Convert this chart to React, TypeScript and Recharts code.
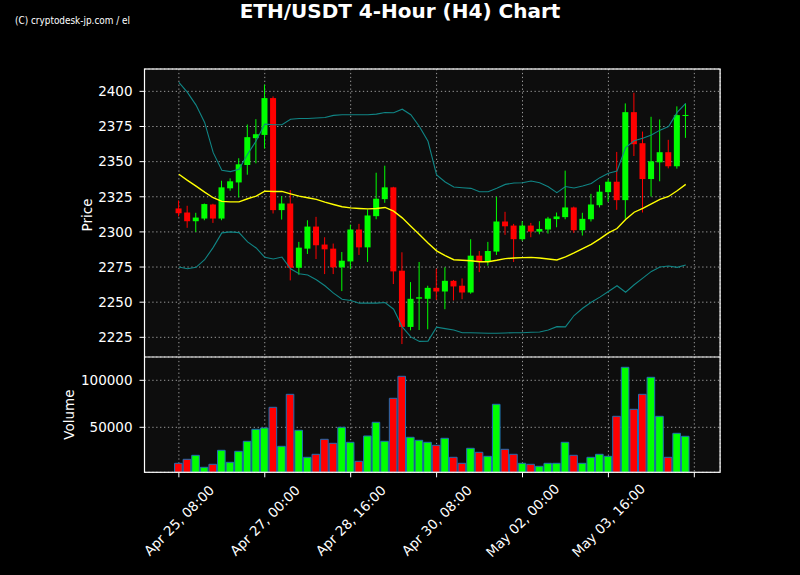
import React from "react";
import { ComposedChart, Bar, Line, XAxis, YAxis, CartesianGrid, Cell } from "recharts";

// 4-hour candles, first one at Apr 25 08:00
const opens = [
  2316.7, 2313.8, 2307.6, 2309.5, 2319.5, 2309.5, 2331.0, 2335.2, 2347.6, 2366.7,
  2369.0, 2395.2, 2315.5, 2320.2, 2274.5, 2288.1, 2303.8, 2291.0, 2288.1, 2274.8,
  2279.0, 2301.7, 2289.0, 2311.2, 2323.3, 2331.7, 2272.4, 2232.4, 2252.5, 2252.4,
  2260.2, 2257.6, 2265.2, 2261.7, 2256.9, 2283.1, 2278.8, 2286.0, 2307.4, 2304.5,
  2294.8, 2304.5, 2300.2, 2301.7, 2309.1, 2310.5, 2317.4, 2301.2, 2309.0, 2319.0,
  2328.3, 2335.7, 2322.6, 2385.2, 2363.1, 2337.6, 2349.5, 2356.7, 2346.7, 2382.8,
];
const highs = [
  2322.4, 2318.6, 2313.6, 2320.2, 2320.0, 2336.4, 2338.1, 2352.4, 2376.4, 2380.2,
  2404.8, 2396.4, 2325.5, 2329.8, 2292.9, 2308.3, 2310.7, 2296.2, 2291.7, 2285.7,
  2305.2, 2305.7, 2316.0, 2342.1, 2347.1, 2332.1, 2285.5, 2264.3, 2278.6, 2261.7,
  2273.8, 2274.8, 2265.8, 2266.9, 2294.8, 2286.4, 2292.9, 2325.0, 2314.3, 2305.7,
  2307.6, 2306.4, 2307.6, 2310.7, 2313.8, 2343.6, 2318.0, 2313.6, 2327.1, 2333.3,
  2337.4, 2356.9, 2391.4, 2399.0, 2371.4, 2381.9, 2380.0, 2365.5, 2389.3, 2391.2,
];
const lows = [
  2311.0, 2302.9, 2300.0, 2308.3, 2306.4, 2308.3, 2329.3, 2324.5, 2340.7, 2348.8,
  2359.3, 2313.1, 2308.8, 2265.5, 2269.5, 2284.3, 2280.7, 2270.0, 2270.0, 2257.9,
  2273.8, 2283.6, 2278.6, 2309.0, 2320.7, 2262.9, 2220.2, 2230.0, 2230.2, 2230.7,
  2251.7, 2245.0, 2251.2, 2252.1, 2256.0, 2271.4, 2276.0, 2283.6, 2297.9, 2278.6,
  2293.6, 2296.2, 2298.3, 2298.8, 2303.3, 2309.0, 2299.3, 2297.4, 2307.4, 2317.4,
  2321.4, 2315.7, 2309.3, 2354.0, 2313.8, 2325.2, 2336.0, 2345.2, 2345.0, 2366.9,
];
const closes = [
  2313.3, 2307.6, 2310.2, 2319.8, 2309.5, 2331.7, 2336.0, 2348.1, 2367.4, 2369.5,
  2395.2, 2315.5, 2320.2, 2274.5, 2288.8, 2303.8, 2290.5, 2287.6, 2274.8, 2279.5,
  2301.7, 2289.0, 2311.7, 2323.6, 2331.7, 2271.9, 2232.4, 2252.4, 2253.5, 2260.2,
  2257.6, 2265.2, 2261.2, 2256.9, 2283.1, 2278.8, 2286.4, 2307.4, 2304.0, 2294.8,
  2304.5, 2300.2, 2302.1, 2309.5, 2311.0, 2317.4, 2301.2, 2309.3, 2319.5, 2328.6,
  2335.7, 2322.6, 2385.2, 2362.4, 2337.6, 2350.2, 2356.7, 2346.7, 2383.1, 2383.2,
];
const volumes = [
  11700, 15960, 20200, 7450, 10640, 25530, 12770, 24470, 35110, 47870,
  49290, 71280, 29790, 85100, 46810, 18090, 21280, 37240, 32980, 50000,
  34040, 13830, 40780, 55320, 35110, 80850, 104260, 39360, 36170, 34040,
  30850, 38300, 18090, 11700, 27660, 23400, 19150, 74470, 26600, 21280,
  11700, 10640, 8510, 11700, 11700, 34040, 20215, 11700, 18090, 21280,
  19150, 61700, 113830, 69150, 85100, 103190, 61700, 18090, 43620, 40430,
];
// Bollinger bands as drawn
const upperBand = [
  2406.4, 2399.3, 2390.2, 2377.9, 2356.4, 2343.8, 2342.9, 2344.5, 2355.2, 2364.8,
  2376.7, 2376.2, 2376.2, 2380.2, 2380.7, 2380.7, 2381.0, 2381.4, 2382.9, 2383.3,
  2383.3, 2383.3, 2383.3, 2383.8, 2385.0, 2384.8, 2387.3, 2383.4, 2375.0, 2364.5,
  2340.5, 2335.5, 2331.9, 2331.4, 2331.0, 2328.6, 2328.6, 2331.0, 2333.8, 2334.8,
  2335.0, 2336.2, 2335.0, 2332.1, 2327.9, 2332.3, 2331.2, 2332.6, 2334.5, 2338.6,
  2341.7, 2343.3, 2360.0, 2364.8, 2366.7, 2369.0, 2372.4, 2375.0, 2385.0, 2391.4,
];
const middleBand = [
  2341.0, 2336.7, 2332.6, 2328.3, 2324.3, 2321.7, 2321.4, 2321.4, 2323.6, 2325.5,
  2329.0, 2328.8, 2328.8, 2327.1, 2325.5, 2324.3, 2323.1, 2321.2, 2319.5, 2317.9,
  2317.1, 2316.7, 2316.4, 2316.7, 2317.4, 2314.8, 2310.0, 2304.0, 2298.1, 2292.1,
  2286.5, 2283.1, 2280.2, 2279.8, 2279.5, 2278.8, 2278.8, 2279.8, 2281.0, 2281.4,
  2281.7, 2281.9, 2281.4, 2280.7, 2280.0, 2282.2, 2285.0, 2288.1, 2291.2, 2295.0,
  2299.3, 2302.4, 2308.8, 2314.0, 2316.7, 2320.0, 2323.1, 2325.2, 2329.3, 2333.8,
];
const lowerBand = [
  2275.0, 2273.8, 2274.8, 2280.2, 2289.0, 2299.3, 2300.0, 2299.5, 2292.9, 2288.6,
  2281.9, 2280.7, 2282.1, 2273.8, 2270.2, 2269.3, 2266.0, 2261.7, 2256.4, 2252.1,
  2251.2, 2249.3, 2249.3, 2249.3, 2249.8, 2245.0, 2232.4, 2225.3, 2222.1, 2222.3,
  2232.2, 2231.2, 2230.2, 2228.3, 2228.3, 2228.1, 2227.9, 2227.9, 2228.1, 2228.3,
  2228.3, 2228.6, 2228.8, 2230.2, 2232.6, 2232.4, 2240.5, 2245.7, 2250.0, 2253.6,
  2257.6, 2261.7, 2257.1, 2262.4, 2267.1, 2271.9, 2275.0, 2275.7, 2274.8, 2276.4,
];

const xTickValues = [0, 10, 20, 30, 40, 50, 60];
const xTickLabels = [
  "Apr 25, 08:00",
  "Apr 27, 00:00",
  "Apr 28, 16:00",
  "Apr 30, 08:00",
  "May 02, 00:00",
  "May 03, 16:00",
  "",
];
const priceTicks = [2225, 2250, 2275, 2300, 2325, 2350, 2375, 2400];
const volumeTicks = [50000, 100000];

const UP = "#00ff00";
const DOWN = "#ff0000";
const BAND = "#108585";
const FONT = "DejaVu Sans";
const TICK_SIZE = 13.5;

const data = opens.map((o, i) => ({
  idx: i,
  open: o,
  high: highs[i],
  low: lows[i],
  close: closes[i],
  range: [lows[i], highs[i]],
  upper: upperBand[i],
  mid: middleBand[i],
  lower: lowerBand[i],
  volume: volumes[i],
}));

const Candle = (props: any) => {
  const { x, y, width, height, payload } = props;
  if (!payload || height == null) return null;
  const { open, close, high, low } = payload;
  const color = close >= open ? UP : DOWN;
  const k = height / (high - low);
  const yOf = (v: number) => y + (high - v) * k;
  const top = yOf(Math.max(open, close));
  const bottom = yOf(Math.min(open, close));
  const cx = x + width / 2;
  return (
    <g>
      <line x1={cx} x2={cx} y1={y} y2={y + height} stroke={color} strokeWidth={1} />
      <rect x={x} y={top} width={width} height={Math.max(bottom - top, 1)} fill={color} />
    </g>
  );
};

const DateTick = (props: any) => {
  const { x, y, payload } = props;
  const label = xTickLabels[xTickValues.indexOf(payload.value)] || "";
  const cy = y + 41;
  return (
    <text
      x={x}
      y={cy}
      textAnchor="middle"
      dominantBaseline="central"
      transform={`rotate(-45 ${x} ${cy})`}
      fill="#ffffff"
      fontSize={TICK_SIZE}
      fontFamily={FONT}
    >
      {label}
    </text>
  );
};

const gridProps = {
  stroke: "#9a9a9a",
  strokeDasharray: "1.3 2.6",
  strokeWidth: 1,
  fill: "#0d0d0d",
  fillOpacity: 1,
};

const yTick = { fill: "#ffffff", fontSize: TICK_SIZE, fontFamily: FONT };

export default function App() {
  return (
    <div style={{ position: "absolute", left: 0, top: 0, width: 800, height: 575, background: "#000", overflow: "hidden" }}>
      <div style={{ position: "absolute", left: 0, top: 0 }}>
        <ComposedChart width={800} height={357} data={data} margin={{ top: 69, right: 79.9, bottom: 0, left: 0 }}>
          <CartesianGrid {...gridProps} />
          <XAxis dataKey="idx" type="number" domain={[-4, 63]} ticks={xTickValues} allowDataOverflow hide />
          <YAxis
            type="number"
            domain={[2211, 2415.9]}
            ticks={priceTicks}
            allowDataOverflow
            width={144.5}
            axisLine={false}
            tickLine={{ stroke: "#ffffff" }}
            tickSize={5}
            tickMargin={7}
            tick={yTick}
          />
          <Bar dataKey="range" barSize={6} shape={<Candle />} isAnimationActive={false} />
          <Line dataKey="upper" type="linear" stroke={BAND} strokeWidth={1.1} dot={false} activeDot={false} isAnimationActive={false} />
          <Line dataKey="lower" type="linear" stroke={BAND} strokeWidth={1.1} dot={false} activeDot={false} isAnimationActive={false} />
          <Line dataKey="mid" type="linear" stroke="#ffff00" strokeWidth={1.4} dot={false} activeDot={false} isAnimationActive={false} />
        </ComposedChart>
      </div>
      <div style={{ position: "absolute", left: 0, top: 357 }}>
        <ComposedChart width={800} height={218} data={data} margin={{ top: 0, right: 79.9, bottom: 0, left: 0 }}>
          <CartesianGrid {...gridProps} />
          <XAxis
            dataKey="idx"
            type="number"
            domain={[-4, 63]}
            ticks={xTickValues}
            allowDataOverflow
            height={102.7}
            axisLine={false}
            tickLine={{ stroke: "#ffffff" }}
            tickSize={5}
            tick={<DateTick />}
          />
          <YAxis
            type="number"
            domain={[2128, 124800]}
            ticks={volumeTicks}
            allowDataOverflow
            width={144.5}
            axisLine={false}
            tickLine={{ stroke: "#ffffff" }}
            tickSize={5}
            tickMargin={7}
            tick={yTick}
          />
          <Bar dataKey="volume" barSize={7.6} isAnimationActive={false}>
            {data.map((d, i) => (
              <Cell key={i} fill={d.close >= d.open ? UP : DOWN} stroke="#1f6fb4" strokeWidth={1} />
            ))}
          </Bar>
        </ComposedChart>
      </div>
      <svg width={800} height={575} style={{ position: "absolute", left: 0, top: 0, pointerEvents: "none" }}>
        <text x={400} y={18} textAnchor="middle" fill="#ffffff" fontFamily={FONT} fontWeight="bold" fontSize={20}>
          ETH/USDT 4-Hour (H4) Chart
        </text>
        <text x={15} y={24} fill="#ffffff" fontFamily={FONT} fontSize={10} textLength={115} lengthAdjust="spacingAndGlyphs">
          (C) cryptodesk-jp.com / el
        </text>
        <text x={91.5} y={215} textAnchor="middle" fill="#ffffff" fontFamily={FONT} fontSize={TICK_SIZE} transform="rotate(-90 91.5 215)">
          Price
        </text>
        <text x={74} y={414.6} textAnchor="middle" fill="#ffffff" fontFamily={FONT} fontSize={TICK_SIZE} transform="rotate(-90 74 414.6)">
          Volume
        </text>
        <rect x={144.5} y={69} width={575.6} height={403.3} fill="none" stroke="#ffffff" strokeWidth={1.2} />
        <line x1={144.5} x2={720.1} y1={357} y2={357} stroke="#ffffff" strokeWidth={1.2} />
      </svg>
    </div>
  );
}
